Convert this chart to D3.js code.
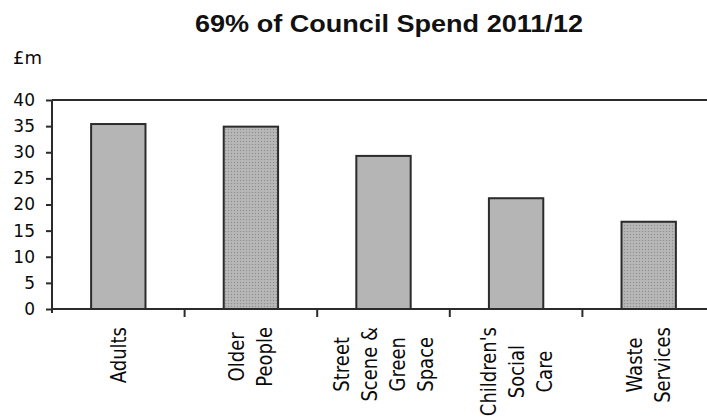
<!DOCTYPE html>
<html>
<head>
<meta charset="utf-8">
<script src="https://cdn.jsdelivr.net/npm/d3@7"></script>
<style>
  html, body { margin: 0; padding: 0; background: #fff; }
  svg { display: block; }
</style>
</head>
<body>
<svg id="chart" width="707" height="418"></svg>
<script>
// Council spending by service area, 2011/12 (£m)
const categories = ["Adults", "Older People", "Street Scene & Green Space", "Children's Social Care", "Waste Services"];
const labelLines = [["Adults"], ["Older", "People"], ["Street", "Scene &", "Green", "Space"], ["Children's", "Social", "Care"], ["Waste", "Services"]];
const spend = [35.4, 34.9, 29.3, 21.2, 16.7];
const yTicks = [0, 5, 10, 15, 20, 25, 30, 35, 40];
const titleText = "69% of Council Spend 2011/12";
const unitText = "£m";

const svg = d3.select("#chart");
const plot = { left: 52, right: 715, top: 100, bottom: 309 };
const ink = "#2b2b2b";
const textInk = "#0a0a0a";
const bodyFont = "'DejaVu Sans', Verdana, sans-serif";

const x = d3.scaleBand()
  .domain(categories)
  .range([plot.left, plot.right])
  .paddingInner(0.59)
  .paddingOuter(0.295);
const y = d3.scaleLinear().domain([0, 40]).range([plot.bottom, plot.top]);

// stipple texture for some of the bars
const defs = svg.append("defs");
const pat = defs.append("pattern")
  .attr("id", "stipple").attr("patternUnits", "userSpaceOnUse")
  .attr("width", 3).attr("height", 3);
pat.append("rect").attr("width", 3).attr("height", 3).attr("fill", "#b3b3b3");
pat.append("rect").attr("x", 0).attr("y", 0).attr("width", 1).attr("height", 1).attr("fill", "#8f8f8f");
pat.append("rect").attr("x", 1.5).attr("y", 1.5).attr("width", 1).attr("height", 1).attr("fill", "#c8c8c8");
const stippled = new Set(["Older People", "Waste Services"]);

// title
svg.append("text")
  .attr("x", 389).attr("y", 32)
  .attr("text-anchor", "middle")
  .attr("font-family", "'Liberation Sans', Arial, sans-serif")
  .attr("font-weight", "bold")
  .attr("font-size", 23)
  .attr("textLength", 388)
  .attr("lengthAdjust", "spacingAndGlyphs")
  .attr("fill", "#111")
  .text(titleText);

// unit label
svg.append("text")
  .attr("x", 13).attr("y", 64)
  .attr("font-family", bodyFont)
  .attr("font-size", 17)
  .attr("textLength", 29)
  .attr("lengthAdjust", "spacingAndGlyphs")
  .attr("fill", textInk)
  .text(unitText);

// plot frame: top edge
svg.append("line")
  .attr("x1", plot.left).attr("x2", plot.right)
  .attr("y1", plot.top).attr("y2", plot.top)
  .attr("stroke", ink).attr("stroke-width", 2);

// bars
svg.append("g").selectAll("rect")
  .data(categories)
  .join("rect")
  .attr("x", d => x(d))
  .attr("y", (d, i) => y(spend[i]))
  .attr("width", x.bandwidth())
  .attr("height", (d, i) => y(0) - y(spend[i]))
  .attr("fill", d => stippled.has(d) ? "url(#stipple)" : "#b5b5b5")
  .attr("stroke", ink)
  .attr("stroke-width", 2);

// y axis
const yAxis = svg.append("g")
  .attr("transform", `translate(${plot.left},0)`)
  .call(d3.axisLeft(y).tickValues(yTicks).tickSize(6).tickPadding(11).tickSizeOuter(0));
yAxis.select(".domain").remove();
yAxis.selectAll(".tick line").attr("stroke", ink).attr("stroke-width", 2);
yAxis.selectAll(".tick text")
  .attr("font-family", bodyFont)
  .attr("font-size", 17)
  .attr("fill", textInk);
svg.append("line")
  .attr("x1", plot.left).attr("x2", plot.left)
  .attr("y1", plot.top).attr("y2", plot.bottom + 4)
  .attr("stroke", ink).attr("stroke-width", 2);

// x axis baseline and category divider ticks
svg.append("line")
  .attr("x1", plot.left).attr("x2", plot.right)
  .attr("y1", y(0)).attr("y2", y(0))
  .attr("stroke", ink).attr("stroke-width", 2);
const step = x.step();
svg.append("g").selectAll("line")
  .data(categories.slice(1))
  .join("line")
  .attr("x1", d => x(d) + x.bandwidth() / 2 - step / 2)
  .attr("x2", d => x(d) + x.bandwidth() / 2 - step / 2)
  .attr("y1", y(0)).attr("y2", y(0) + 8)
  .attr("stroke", ink).attr("stroke-width", 2);

// rotated, multi-line category labels
const lineGap = 28;
const labelTop = 327;
const labelFont = 18;
const stretch = 1.15;
categories.forEach((cat, ci) => {
  const cx = x(cat) + x.bandwidth() / 2;
  const lines = labelLines[ci];
  const g = svg.append("g");
  const texts = lines.map((ln, li) => {
    const lx = cx + (li - (lines.length - 1) / 2) * lineGap;
    return g.append("text")
      .attr("text-anchor", "middle")
      .attr("dy", "0.36em")
      .attr("font-family", bodyFont)
      .attr("font-size", labelFont)
      .attr("fill", textInk)
      .datum(lx)
      .text(ln);
  });
  const maxLen = d3.max(texts, t => t.node().getComputedTextLength());
  const cy = labelTop + maxLen / 2;
  texts.forEach(t => {
    t.attr("transform", `translate(${t.datum()},${cy}) scale(${stretch},1) rotate(-90)`);
  });
});
</script>
</body>
</html>
